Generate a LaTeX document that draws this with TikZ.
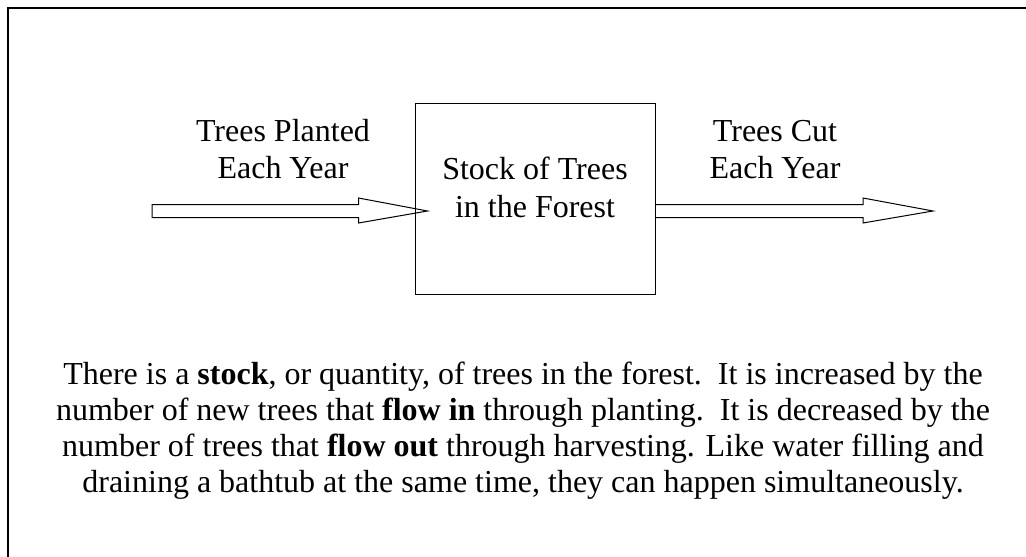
\documentclass[tikz,border=0pt]{standalone}
\usepackage{fontspec}
\setmainfont{Liberation Serif}
\usetikzlibrary{calc}
\tikzset{
  frame/.style={line width=2pt},
  stockbox/.style={draw, line width=1pt, minimum width=240pt, minimum height=191pt, inner sep=0pt},
  flowarrow/.style={draw, fill=white, line width=1pt, line join=miter},
  txt/.style={align=center, inner sep=0pt, font=\fontsize{32}{36.5}\selectfont},
  boxtxt/.style={align=center, inner sep=0pt, font=\fontsize{32}{38}\selectfont},
  para/.style={align=center, inner sep=0pt, font=\fontsize{32}{35.7}\selectfont}
}
\begin{document}
\begin{tikzpicture}[x=1pt, y=-1pt]
\useasboundingbox (0,0) rectangle (1026,557);
% outer frame (runs past the page on the right and bottom)
\draw[frame] (8,580) -- (8,8) -- (1050,8);

% stock
\node[stockbox] (stock) at (535,198.5) {};
\node[boxtxt, anchor=base] (stocktext) at (535,217) {Stock of Trees\\in the Forest};

% flow endpoints
\coordinate (inStart) at (152,211);
\coordinate (inTip) at ($(stock.west |- inStart)+(13,0)$);
\coordinate (outStart) at (stock.east |- inStart);
\coordinate (outEnd) at (933,211);

% inflow arrow
\draw[flowarrow] ($(inStart)+(0,-6.5)$) -- ($(inTip)+(-69,-6.5)$) -- ($(inTip)+(-69,-13)$)
  -- (inTip) -- ($(inTip)+(-69,12)$) -- ($(inTip)+(-69,6.5)$)
  -- ($(inStart)+(0,6.5)$) -- cycle;
% outflow arrow
\draw[flowarrow] ($(outStart)+(0,-6.5)$) -- ($(outEnd)+(-70,-6.5)$) -- ($(outEnd)+(-70,-13)$)
  -- (outEnd) -- ($(outEnd)+(-70,12)$) -- ($(outEnd)+(-70,6.5)$)
  -- ($(outStart)+(0,6.5)$);
% box outline over the arrow tip
\node[stockbox] at (stock.center) {};

% flow labels
\node[txt, anchor=base] (inlabel) at (283,178) {Trees Planted\\Each Year};
\node[txt, anchor=base] (outlabel) at (775,178) {Trees Cut\\Each Year};

% explanation
\node[para, anchor=base] (explain) at (523,492) {There is a \textbf{stock}, or quantity, of trees in the forest.\ \ It is increased by the\\
number of new trees that \textbf{flow in} through planting.\ \ It is decreased by the\\
number of trees that \textbf{flow out} through harvesting. Like water filling and\\
draining a bathtub at the same time, they can happen simultaneously.};
\end{tikzpicture}
\end{document}
